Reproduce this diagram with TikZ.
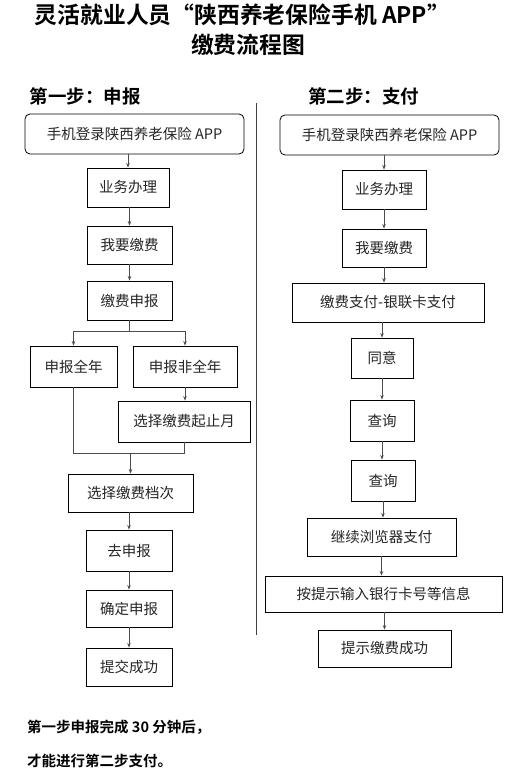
\documentclass[tikz,border=0pt]{standalone}
\usepackage{fontspec}
\setmainfont{Noto Sans CJK SC}[BoldFont={Noto Sans CJK SC Bold}]
\usetikzlibrary{arrows.meta}
\begin{document}
\begin{tikzpicture}[x=1pt,y=-1pt,
  box/.style={draw=black,line width=0.8pt,inner sep=0pt,font=\fontsize{14.5}{16}\selectfont,text=black!85},
  rbox/.style={box,rounded corners=5pt},
  conn/.style={draw=black!70,line width=0.8pt},
  arr/.style={conn,-{Stealth[length=4.5pt,width=3.5pt]}},
  title/.style={inner sep=0pt,font=\bfseries\fontsize{22.8}{24}\selectfont},
  head/.style={inner sep=0pt,font=\bfseries\fontsize{18.5}{20}\selectfont},
  note/.style={inner sep=0pt,anchor=west,font=\bfseries\fontsize{14.5}{16}\selectfont}]
\useasboundingbox[fill=white] (0,0) rectangle (515,773);
% titles
\node[title] (t1) at (242.5,15) {灵活就业人员“陕西养老保险手机 APP”};
\node[title] (t2) at (248,45) {缴费流程图};
\node[head] (h1) at (85,96) {第一步：申报};
\node[head] (h2) at (363.5,96) {第二步：支付};
% divider
\coordinate (d1) at (256,103);
\coordinate (d2) at (256,635);
\draw[draw=black!75,line width=1pt] (d1) -- (d2);
% left column
\node[rbox,minimum width=219pt,minimum height=40pt] (L1) at (134.5,134) {手机登录陕西养老保险 APP};
\node[box,minimum width=82pt,minimum height=39pt] (L2) at (128,187.5) {业务办理};
\node[box,minimum width=85pt,minimum height=38pt] (L3) at (129.5,245) {我要缴费};
\node[box,minimum width=85pt,minimum height=39pt] (L4) at (129.5,300.5) {缴费申报};
\node[box,minimum width=87pt,minimum height=41pt] (L5) at (73.5,366.5) {申报全年};
\node[box,minimum width=104pt,minimum height=41pt] (L6) at (185,366.5) {申报非全年};
\node[box,minimum width=132pt,minimum height=41pt] (L7) at (184,421.5) {选择缴费起止月};
\node[box,minimum width=125pt,minimum height=38pt] (L8) at (130.5,493) {选择缴费档次};
\node[box,minimum width=86pt,minimum height=41pt] (L9) at (129,550.5) {去申报};
\node[box,minimum width=86pt,minimum height=37pt] (L10) at (129,608.5) {确定申报};
\node[box,minimum width=86pt,minimum height=38pt] (L11) at (129,667) {提交成功};
\draw[arr] (L2.north |- L1.south) -- (L2.north);
\draw[arr] (L3.north |- L2.south) -- (L3.north);
\draw[arr] (L4.north |- L3.south) -- (L4.north);
\draw[conn] (L4.south) -- ++(0,11) coordinate (br);
\draw[conn] (L5.north |- br) -- (L6.north |- br);
\draw[arr] (L5.north |- br) -- (L5.north);
\draw[arr] (L6.north |- br) -- (L6.north);
\draw[arr] (L6.south) -- (L6.south |- L7.north);
\coordinate (mg) at (130,453);
\draw[conn] (L5.south) -- (L5.south |- mg) -- (L7.south |- mg) -- (L7.south);
\draw[arr] (L8.north |- mg) -- (L8.north);
\draw[arr] (L9.north |- L8.south) -- (L9.north);
\draw[arr] (L10.north |- L9.south) -- (L10.north);
\draw[arr] (L11.north |- L10.south) -- (L11.north);
% right column
\node[rbox,minimum width=219pt,minimum height=40pt] (R1) at (389.5,135) {手机登录陕西养老保险 APP};
\node[box,minimum width=84pt,minimum height=39pt] (R2) at (384,189.5) {业务办理};
\node[box,minimum width=84pt,minimum height=38pt] (R3) at (384,248) {我要缴费};
\node[box,minimum width=192pt,minimum height=39pt] (R4) at (388,302.5) {缴费支付-银联卡支付};
\node[box,minimum width=62pt,minimum height=40pt] (R5) at (382,358) {同意};
\node[box,minimum width=64pt,minimum height=41pt] (R6) at (382,420.5) {查询};
\node[box,minimum width=64pt,minimum height=41pt] (R7) at (383,480.5) {查询};
\node[box,minimum width=149pt,minimum height=38pt] (R8) at (381.5,537) {继续浏览器支付};
\node[box,minimum width=237pt,minimum height=36pt] (R9) at (383.5,594) {按提示输入银行卡号等信息};
\node[box,minimum width=133pt,minimum height=37pt] (R10) at (384.5,648.5) {提示缴费成功};
\draw[arr] (R2.north |- R1.south) -- (R2.north);
\draw[arr] (R3.north |- R2.south) -- (R3.north);
\draw[arr] (R3.south) -- (R3.south |- R4.north);
\draw[arr] (R5.north |- R4.south) -- (R5.north);
\draw[arr] (R5.south) -- (R5.south |- R6.north);
\draw[arr] (R6.south) -- (R6.south |- R7.north);
\draw[arr] (R7.south) -- (R7.south |- R8.north);
\draw[arr] (R8.south) -- (R8.south |- R9.north);
\draw[arr] (R10.north |- R9.south) -- (R10.north);
% note
\node[note] (n1) at (27,727) {第一步申报完成 30 分钟后，};
\node[note] (n2) at (27,761) {才能进行第二步支付。};
\end{tikzpicture}
\end{document}
